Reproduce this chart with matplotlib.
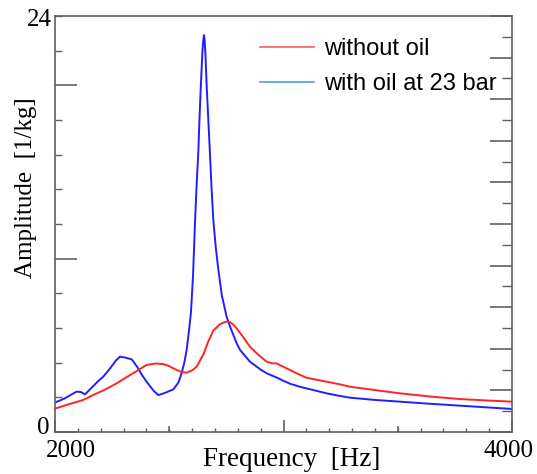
import numpy as np
import matplotlib
matplotlib.use("Agg")
import matplotlib.pyplot as plt
from matplotlib.lines import Line2D
from matplotlib.ticker import MultipleLocator

# data
freq_oil = [2000, 2040, 2070, 2095, 2115, 2131, 2160, 2190, 2211, 2240, 2265, 2284,
            2305, 2336, 2360, 2380, 2401, 2430, 2452, 2480, 2518, 2540, 2554, 2566,
            2576, 2586, 2595, 2604, 2613, 2620, 2627, 2633, 2638, 2645, 2649, 2652,
            2655, 2658, 2664, 2671, 2678, 2685, 2693, 2704, 2715, 2730, 2751, 2766,
            2795, 2810, 2853, 2900, 2926, 2977, 3000, 3030, 3072, 3130, 3189, 3247,
            3291, 3400, 3510, 3640, 3772, 3890, 4000]
amp_oil = [1.70, 1.92, 2.15, 2.33, 2.30, 2.17, 2.55, 2.95, 3.19, 3.65, 4.10, 4.35,
           4.30, 4.19, 3.75, 3.30, 2.90, 2.40, 2.13, 2.25, 2.46, 2.85, 3.39, 4.00,
           4.73, 5.80, 6.90, 9.00, 12.2, 14.3, 16.1, 18.3, 19.9, 21.9, 22.6, 22.9,
           22.6, 21.9, 19.9, 18.0, 16.1, 14.1, 12.2, 10.6, 9.35, 7.90, 6.65, 6.08,
           5.12, 4.73, 4.06, 3.60, 3.39, 3.10, 2.95, 2.78, 2.61, 2.42, 2.23, 2.08,
           1.98, 1.85, 1.75, 1.63, 1.52, 1.42, 1.33]

freq_dry = [2000, 2060, 2124, 2170, 2220, 2270, 2320, 2358, 2401, 2440, 2474, 2500,
            2518, 2550, 2576, 2600, 2620, 2650, 2670, 2693, 2720, 2740, 2751, 2765,
            2780, 2795, 2825, 2853, 2890, 2926, 2950, 2970, 2990, 3014, 3060, 3101,
            3150, 3189, 3247, 3291, 3400, 3510, 3640, 3772, 3890, 4000]
amp_dry = [1.35, 1.60, 1.85, 2.15, 2.45, 2.81, 3.22, 3.52, 3.87, 3.95, 3.92, 3.80,
           3.67, 3.48, 3.42, 3.55, 3.77, 4.50, 5.20, 5.85, 6.20, 6.33, 6.37, 6.35,
           6.20, 5.98, 5.45, 4.92, 4.45, 4.06, 3.96, 3.96, 3.82, 3.67, 3.37, 3.13,
           3.00, 2.90, 2.75, 2.61, 2.42, 2.23, 2.05, 1.90, 1.82, 1.75]

labels = ["without oil", "with oil at 23 bar"]

W, H = 537, 474
fig = plt.figure(figsize=(W / 100, H / 100), dpi=100)
ax = fig.add_axes([55 / W, 42 / H, 457 / W, 416 / H])

ax.plot(freq_oil, amp_oil, color="#1f1fff", lw=1.4)
ax.plot(freq_dry, amp_dry, color="#ff2424", lw=1.4)

ax.set_xlim(2000, 4000)
ax.set_ylim(0, 24)

frame = "#606060"
for sp in ax.spines.values():
    sp.set_color(frame)
    sp.set_linewidth(1.2)

# x ticks: long at 3000, minor every 100
ax.xaxis.set_major_locator(MultipleLocator(1000))
ax.xaxis.set_minor_locator(MultipleLocator(100))
ax.tick_params(axis="x", which="major", direction="in", length=9, width=1.2,
               color=frame, labelbottom=False, top=False)
ax.tick_params(axis="x", which="minor", direction="in", length=2.6, width=1.0,
               color=frame, top=False)
sec = ax.secondary_xaxis("bottom")
sec.set_xticks([2500, 3500])
sec.tick_params(direction="in", length=4.5, width=1.1, color=frame, labelbottom=False)
sec.spines["bottom"].set_visible(False)

# left y ticks
ax.yaxis.set_major_locator(MultipleLocator(10))
ax.yaxis.set_minor_locator(MultipleLocator(2))
ax.tick_params(axis="y", which="major", direction="in", length=16, width=1.2,
               color=frame, labelleft=False, right=False)
ax.tick_params(axis="y", which="minor", direction="in", length=5, width=1.0,
               color=frame, right=False)

# right axis with its own scale
ax2 = ax.twinx()
ax2.set_ylim(0, 10)
ax2.yaxis.set_major_locator(MultipleLocator(1))
ax2.yaxis.set_minor_locator(MultipleLocator(0.5))
ax2.tick_params(axis="y", which="major", direction="in", length=16, width=1.2,
                color=frame, labelright=False)
ax2.tick_params(axis="y", which="minor", direction="in", length=7, width=1.0,
                color=frame)
for sp in ax2.spines.values():
    sp.set_visible(False)

serif = "Liberation Serif"
fig.text(52 / W, 1 - 20 / H, "24", ha="right", va="center", fontsize=18, family=serif)
fig.text(50 / W, 1 - 428 / H, "0", ha="right", va="center", fontsize=18, family=serif)
fig.text(71 / W, 1 - 451 / H, "2000", ha="center", va="center", fontsize=18, family=serif)
fig.text(508 / W, 1 - 451 / H, "4000", ha="center", va="center", fontsize=18, family=serif)

ax.set_xlabel("Frequency  [Hz]", fontsize=19.5, family=serif, va="center")
ax.xaxis.set_label_coords(0.519, -0.067)
ax.set_ylabel("Amplitude  [1/kg]", fontsize=18, family=serif, va="center")
ax.yaxis.set_label_coords(-0.063, 0.587)

handles = [Line2D([], [], color="#ff6a6a", lw=1.3),
           Line2D([], [], color="#5aa6e6", lw=1.3)]
ax.legend(handles, labels, frameon=False, loc="upper left",
          bbox_to_anchor=(260 / W, 1 - 38 / H), bbox_transform=fig.transFigure,
          prop={"family": "Liberation Sans", "size": 17},
          handlelength=2.3, handletextpad=0.4, labelspacing=0.55,
          borderpad=0, borderaxespad=0)

fig.savefig("out.png", dpi=100)
